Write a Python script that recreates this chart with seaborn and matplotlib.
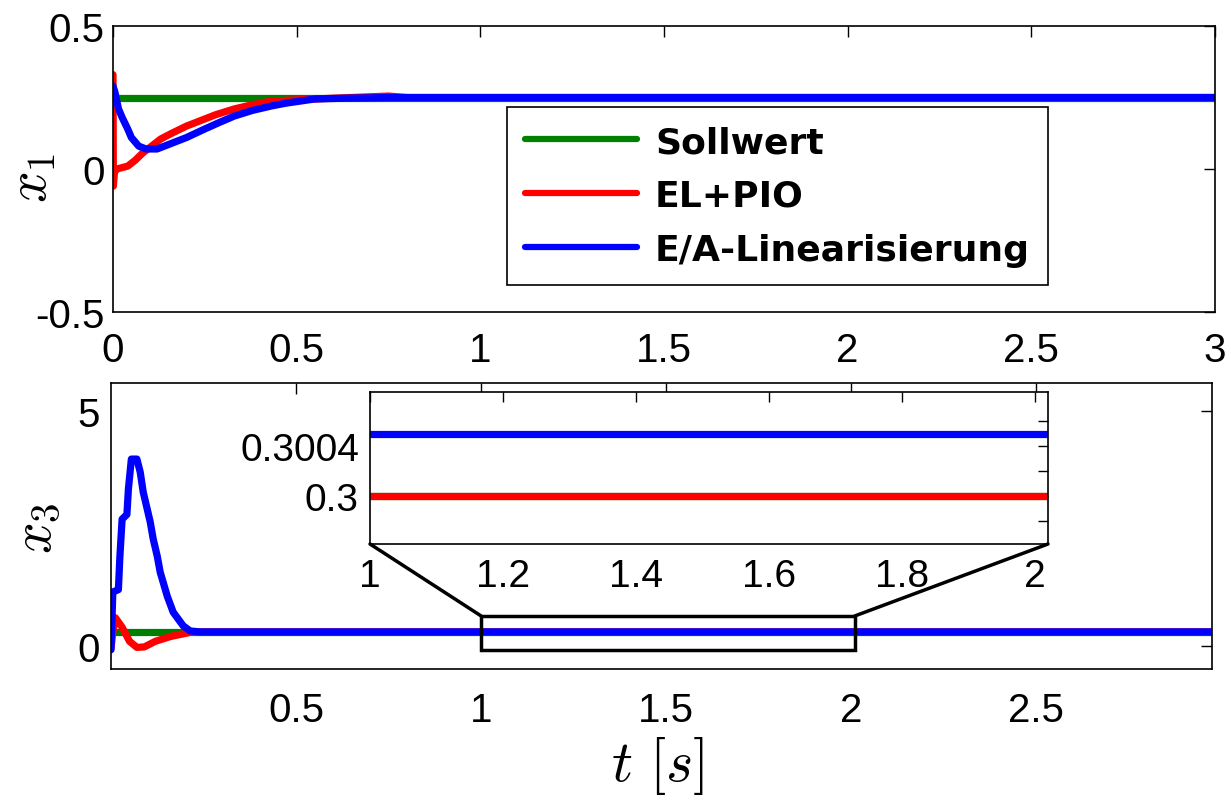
import numpy as np
import pandas as pd
import matplotlib
matplotlib.use("Agg")
import matplotlib.pyplot as plt
import seaborn as sns
from matplotlib.lines import Line2D
from matplotlib.patches import Rectangle, ConnectionPatch

# ---------------- data ----------------
labels = ["Sollwert", "EL+PIO", "E/A-Linearisierung"]
colors = ["#008000", "#ff0000", "#0000ff"]

# x1 panel
t_soll_x1 = [0.005, 3.0]
v_soll_x1 = [0.25, 0.25]
t_pio_x1 = [0.0, 0.001, 0.004, 0.01, 0.04, 0.06, 0.08, 0.10, 0.13, 0.16, 0.20, 0.24,
            0.28, 0.33, 0.38, 0.42, 0.47, 0.55, 0.65, 0.75, 0.80, 3.0]
v_pio_x1 = [0.33, -0.06, -0.01, 0.0, 0.01, 0.03, 0.055, 0.075, 0.105, 0.125, 0.15, 0.17,
            0.19, 0.21, 0.225, 0.235, 0.24, 0.245, 0.25, 0.255, 0.25, 0.25]
t_ea_x1 = [0.0, 0.005, 0.015, 0.025, 0.04, 0.05, 0.07, 0.09, 0.12, 0.15, 0.20, 0.25,
           0.29, 0.33, 0.38, 0.43, 0.47, 0.55, 0.65, 0.76, 3.0]
v_ea_x1 = [0.29, 0.27, 0.21, 0.18, 0.14, 0.11, 0.08, 0.07, 0.07, 0.085, 0.11, 0.14,
           0.163, 0.185, 0.205, 0.22, 0.23, 0.245, 0.248, 0.25, 0.25]

# x3 panel
t_soll_x3 = [0.005, 3.0]
v_soll_x3 = [0.3, 0.3]
t_pio_x3 = [0.0, 0.005, 0.012, 0.03, 0.05, 0.07, 0.09, 0.12, 0.16, 0.22, 3.0]
v_pio_x3 = [-0.05, 0.3, 0.6, 0.4, 0.1, -0.03, -0.02, 0.1, 0.2, 0.3, 0.3]
t_ea_x3 = [0.0, 0.005, 0.02, 0.024, 0.03, 0.043, 0.047, 0.055, 0.07, 0.079, 0.087,
           0.106, 0.114, 0.125, 0.133, 0.152, 0.168, 0.195, 0.214, 0.24, 3.0]
v_ea_x3 = [-0.08, 1.15, 1.2, 1.9, 2.7, 2.8, 3.34, 3.98, 3.98, 3.7, 3.28,
           2.64, 2.28, 1.91, 1.57, 1.06, 0.72, 0.43, 0.32, 0.3005, 0.3005]

top_xticks = [0, 0.5, 1, 1.5, 2, 2.5, 3]
top_yticks = [-0.5, 0, 0.5]
bot_xticks = [0.5, 1, 1.5, 2, 2.5]
bot_yticks = [0, 5]
ins_xticks = [1, 1.2, 1.4, 1.6, 1.8, 2]
ins_yticks = [0.2998, 0.3, 0.3002, 0.3004, 0.3006]
ins_yticklabels = ["", "0.3", "", "0.3004", ""]


def frame(ts, vs):
    parts = []
    for lab, t, v in zip(labels, ts, vs):
        parts.append(pd.DataFrame({"t": t, "v": v, "Signal": lab}))
    return pd.concat(parts, ignore_index=True)


df1 = frame([t_soll_x1, t_pio_x1, t_ea_x1], [v_soll_x1, v_pio_x1, v_ea_x1])
df3 = frame([t_soll_x3, t_pio_x3, t_ea_x3], [v_soll_x3, v_pio_x3, v_ea_x3])

# ---------------- style ----------------
sns.set_style("white")
plt.rcParams["font.family"] = ["Liberation Sans", "DejaVu Sans"]
plt.rcParams["mathtext.fontset"] = "cm"
plt.rcParams["axes.linewidth"] = 1.2
plt.rcParams["text.color"] = "black"

fig = plt.figure(figsize=(12.31, 8.03), dpi=100)
W, H = 1231, 803


def ax_at(l, t, r, b):
    return fig.add_axes([l / W, 1 - b / H, (r - l) / W, (b - t) / H])


ax1 = ax_at(113, 27, 1215, 313)
ax2 = ax_at(111, 384, 1212, 670)
axi = ax_at(370, 393, 1048, 545)

LW = 5.2
pal = dict(zip(labels, colors))

for ax, df in [(ax1, df1), (ax2, df3), (axi, df3)]:
    sns.lineplot(data=df, x="t", y="v", hue="Signal", hue_order=labels, palette=pal,
                 sort=False, estimator=None, lw=LW, legend=False, ax=ax)
    ax.set_xlabel("")
    ax.set_ylabel("")
    for sp in ax.spines.values():
        sp.set_visible(True)
        sp.set_color("black")
        sp.set_linewidth(1.2)
    ax.tick_params(direction="in", top=True, right=True, length=8, width=1,
                   labelsize=29, colors="black")

ax1.set_xlim(0, 3)
ax1.set_ylim(-0.5, 0.5)
ax1.set_xticks(top_xticks)
ax1.set_xticklabels([f"{v:g}" for v in top_xticks])
ax1.set_yticks(top_yticks)
ax1.set_yticklabels([f"{v:g}" for v in top_yticks])
ax1.tick_params(axis="x", pad=14)
ax1.tick_params(axis="y", pad=6)

ax2.set_xlim(0, 2.975)
ax2.set_ylim(-0.49, 5.6)
ax2.set_xticks(bot_xticks)
ax2.set_xticklabels([f"{v:g}" for v in bot_xticks])
ax2.set_yticks(bot_yticks)
ax2.set_yticklabels([f"{v:g}" for v in bot_yticks])
ax2.tick_params(axis="x", pad=16)
ax2.tick_params(axis="y", pad=8)

axi.set_xlim(1, 2.02)
axi.set_ylim(0.29962, 0.300832)
axi.set_xticks(ins_xticks)
axi.set_xticklabels([f"{v:g}" for v in ins_xticks])
axi.set_yticks(ins_yticks)
axi.set_yticklabels(ins_yticklabels)
axi.tick_params(labelsize=28, length=7)
axi.tick_params(axis="x", pad=10)
axi.tick_params(axis="y", pad=8)

# zoom rectangle and connectors
ax2.add_patch(Rectangle((1.0, -0.08), 1.01, 0.72, fill=False, ec="black", lw=2.5, zorder=5))
for xa, xb in [(1.0, 0.0), (2.01, 1.0)]:
    con = ConnectionPatch(xyA=(xa, 0.64), coordsA=ax2.transData,
                          xyB=(xb, 0.0), coordsB=axi.transAxes,
                          color="black", lw=2.5)
    fig.add_artist(con)

# legend
handles = [Line2D([], [], color=c, lw=4.5, solid_capstyle="round") for c in colors]
leg = ax1.legend(handles, labels, loc="upper left",
                 bbox_to_anchor=(507 / W, 1 - 108 / H), bbox_transform=fig.transFigure,
                 borderaxespad=0, frameon=True, fancybox=False, framealpha=1,
                 edgecolor="black", handlelength=3.1, handletextpad=0.5,
                 labelspacing=0.55, borderpad=0.5,
                 prop={"family": "DejaVu Sans", "weight": "bold", "size": 26})
leg.get_frame().set_linewidth(1.2)
for txt in leg.get_texts():
    txt.set_color("black")

# axis labels
fig.text(33 / W, 1 - 178 / H, r"$x_1$", fontsize=40, rotation=90, ha="center", va="center",
         color="black")
fig.text(37 / W, 1 - 528 / H, r"$x_3$", fontsize=40, rotation=90, ha="center", va="center",
         color="black")
fig.text(657 / W, 1 - 766 / H, r"$t\ [s]$", fontsize=42, ha="center", va="center",
         color="black")

fig.savefig("out.png", dpi=100, facecolor="white")
